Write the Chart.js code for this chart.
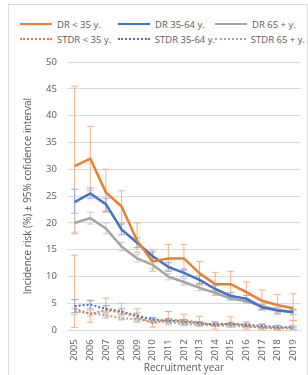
<!DOCTYPE html>
<html>
<head>
<meta charset="utf-8">
<script src="https://cdn.jsdelivr.net/npm/chart.js@4"></script>
<style>
  body { margin: 0; background: #fff; font-family: "Open Sans", "Liberation Sans", sans-serif; }
  .card { position: relative; width: 308px; height: 375px; overflow: hidden; }
  .frame { position: absolute; left: 8px; top: 4px; width: 300px; height: 380px; border: 1px solid #d9d9d9; box-sizing: border-box; }
  .legend { position: absolute; left: 20px; top: 17px; display: grid; grid-template-columns: 98px 97px 90px; row-gap: 1px; font-size: 9.5px; color: #595959; }
  .legend-item { display: flex; align-items: center; white-space: nowrap; height: 14px; }
  .legend-line { width: 32px; margin-right: 5px; }
  canvas { position: absolute; left: 0; top: 0; }
</style>
</head>
<body>
<div class="card">
  <div class="frame"></div>
  <div class="legend" id="legend"></div>
  <canvas id="myChart" width="308" height="375"></canvas>
</div>
<script>
const years = ['2005','2006','2007','2008','2009','2010','2011','2012','2013','2014','2015','2016','2017','2018','2019'];

const drUnder35 = [30.6, 32.0, 25.7, 23.1, 16.7, 12.8, 13.4, 13.4, 10.6, 8.6, 8.6, 7.1, 5.5, 4.7, 4.1];
const drUnder35Low = [18.0, 26.0, 22.0, 20.0, 14.5, 11.0, 11.2, 11.2, 8.5, 6.6, 6.6, 5.3, 3.8, 3.0, 1.8];
const drUnder35High = [45.5, 38.0, 30.0, 26.0, 20.0, 15.0, 16.0, 16.0, 12.8, 10.8, 11.0, 9.0, 7.5, 6.7, 6.8];

const dr35to64 = [23.9, 25.5, 23.5, 18.8, 16.3, 13.8, 11.8, 10.7, 9.4, 7.7, 6.4, 5.9, 4.3, 3.7, 3.4];
const dr35to64Low = [21.8, 24.6, 22.2, 17.8, 15.4, 13.0, 11.0, 10.0, 8.7, 7.1, 5.8, 5.3, 3.8, 3.2, 2.9];
const dr35to64High = [26.3, 26.5, 24.6, 19.8, 17.2, 14.6, 12.6, 11.4, 10.1, 8.3, 7.0, 6.5, 4.8, 4.2, 3.9];

const dr65plus = [20.0, 20.9, 19.0, 15.6, 13.4, 12.2, 10.0, 9.0, 7.9, 7.0, 5.9, 5.4, 4.5, 3.8, 3.3];
const dr65plusLow = [18.3, 19.8, 18.0, 14.8, 12.7, 11.5, 9.4, 8.4, 7.4, 6.5, 5.5, 5.0, 4.1, 3.4, 2.9];
const dr65plusHigh = [21.8, 22.0, 20.0, 16.4, 14.1, 12.9, 10.6, 9.6, 8.4, 7.5, 6.3, 5.8, 4.9, 4.2, 3.7];

const stdrUnder35 = [4.0, 3.0, 3.8, 3.3, 2.5, 1.3, 2.0, 1.8, 1.5, 0.8, 1.3, 0.8, 0.5, 0.3, 0.8];
const stdrUnder35Low = [0.5, 1.5, 2.3, 2.0, 1.5, 0.6, 1.0, 0.9, 0.7, 0.2, 0.5, 0.2, 0.1, 0.0, 0.1];
const stdrUnder35High = [14.0, 5.5, 6.0, 5.0, 4.0, 2.2, 3.5, 3.0, 2.6, 1.6, 2.5, 1.6, 1.2, 0.9, 1.8];

const stdr35to64 = [4.5, 4.8, 4.0, 3.5, 2.7, 2.0, 1.8, 1.6, 1.3, 1.1, 1.2, 1.0, 0.8, 0.6, 0.5];
const stdr35to64Low = [3.3, 4.0, 3.4, 3.0, 2.2, 1.6, 1.4, 1.2, 1.0, 0.8, 0.9, 0.7, 0.5, 0.3, 0.2];
const stdr35to64High = [5.7, 5.6, 4.6, 4.0, 3.2, 2.4, 2.2, 2.0, 1.6, 1.4, 1.5, 1.3, 1.1, 0.9, 0.8];

const stdr65plus = [3.5, 3.2, 2.8, 2.3, 2.0, 1.7, 1.5, 1.2, 1.0, 0.9, 0.8, 0.7, 0.5, 0.4, 0.3];
const stdr65plusLow = [2.9, 2.7, 2.4, 1.9, 1.7, 1.4, 1.2, 1.0, 0.8, 0.7, 0.6, 0.5, 0.3, 0.2, 0.1];
const stdr65plusHigh = [4.1, 3.7, 3.2, 2.7, 2.3, 2.0, 1.8, 1.4, 1.2, 1.1, 1.0, 0.9, 0.7, 0.6, 0.5];

const orange = '#ED7D31';
const blue = '#4472C4';
const gray = '#A5A5A5';

const makeSet = (label, data, low, high, color, errColor, dotted) => ({
  label,
  data,
  low,
  high,
  errColor,
  borderColor: color,
  backgroundColor: color,
  borderWidth: dotted ? 2 : 2.5,
  borderDash: dotted ? [2, 2] : [],
  pointRadius: 0,
  tension: 0,
  fill: false,
});

const datasets = [
  makeSet('DR < 35 y.', drUnder35, drUnder35Low, drUnder35High, orange, '#F4B183', false),
  makeSet('DR 35-64 y.', dr35to64, dr35to64Low, dr35to64High, blue, '#8FAADC', false),
  makeSet('DR 65 + y.', dr65plus, dr65plusLow, dr65plusHigh, gray, '#C9C9C9', false),
  makeSet('STDR < 35 y.', stdrUnder35, stdrUnder35Low, stdrUnder35High, orange, '#F4B183', true),
  makeSet('STDR 35-64 y.', stdr35to64, stdr35to64Low, stdr35to64High, blue, '#8FAADC', true),
  makeSet('STDR 65 + y.', stdr65plus, stdr65plusLow, stdr65plusHigh, gray, '#C9C9C9', true),
];

// error bars drawn under the lines
const errorBars = {
  id: 'errorBars',
  beforeDatasetsDraw(chart) {
    const ctx = chart.ctx;
    const x = chart.scales.x;
    const y = chart.scales.y;
    ctx.save();
    ctx.lineWidth = 1;
    chart.data.datasets.forEach((ds) => {
      ctx.strokeStyle = ds.errColor;
      ds.data.forEach((v, i) => {
        const px = x.getPixelForValue(i);
        const top = y.getPixelForValue(ds.high[i]);
        const bot = y.getPixelForValue(ds.low[i]);
        ctx.beginPath();
        ctx.moveTo(px, top);
        ctx.lineTo(px, bot);
        ctx.moveTo(px - 3.5, top);
        ctx.lineTo(px + 3.5, top);
        ctx.moveTo(px - 3.5, bot);
        ctx.lineTo(px + 3.5, bot);
        ctx.stroke();
      });
    });
    ctx.restore();
  }
};

const legendEl = document.getElementById('legend');
datasets.forEach((ds) => {
  const item = document.createElement('div');
  item.className = 'legend-item';
  const line = document.createElement('span');
  line.className = 'legend-line';
  line.style.borderTop = ds.borderDash.length ? `2px dotted ${ds.borderColor}` : `2.5px solid ${ds.borderColor}`;
  item.appendChild(line);
  item.appendChild(document.createTextNode(ds.label));
  legendEl.appendChild(item);
});

const fontFamily = '"Open Sans", "Liberation Sans", sans-serif';

new Chart(document.getElementById('myChart'), {
  type: 'line',
  data: { labels: years, datasets },
  plugins: [errorBars],
  options: {
    responsive: false,
    animation: false,
    layout: { padding: { top: 62, left: 22, right: 7, bottom: 1 } },
    plugins: {
      legend: { display: false },
      tooltip: { enabled: false },
    },
    scales: {
      x: {
        offset: true,
        grid: { display: false },
        border: { display: false },
        ticks: { color: '#595959', font: { family: fontFamily, size: 9.5 }, minRotation: 90, maxRotation: 90, autoSkip: false, padding: 1 },
        title: { display: true, text: 'Recruitment year', color: '#595959', font: { family: fontFamily, size: 10 }, padding: { top: 0, bottom: 0 } },
      },
      y: {
        min: 0,
        max: 50,
        ticks: { stepSize: 5, color: '#595959', font: { family: fontFamily, size: 9.5 }, padding: 10 },
        grid: { color: '#D9D9D9', lineWidth: 1, drawTicks: false },
        border: { display: false },
        title: { display: true, text: 'Incidence risk (%) ± 95% cofidence interval', color: '#595959', font: { family: fontFamily, size: 10 }, padding: { top: 0, bottom: 2 } },
      },
    },
  },
});
</script>
</body>
</html>
